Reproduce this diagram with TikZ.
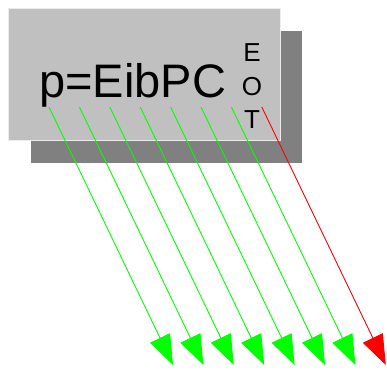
\documentclass[tikz,border=0pt]{standalone}
\usepackage{fontspec}
\setsansfont{Liberation Sans}
\usetikzlibrary{arrows.meta}
\definecolor{boxgray}{HTML}{C0C0C0}
\definecolor{shadowgray}{HTML}{808080}
\definecolor{bitgreen}{HTML}{00FF00}
\definecolor{bitred}{HTML}{FF0000}
\begin{document}
\begin{tikzpicture}[x=1pt, y=-1pt, >={Triangle[length=30pt,width=22pt]},
    every node/.style={font=\sffamily, inner sep=0pt}]
    \useasboundingbox (0,0) rectangle (387,369);
    % 影と箱
    \fill[shadowgray] (31,31) rectangle (302,163);
    \filldraw[fill=boxgray, draw=gray!15] (8,8) rectangle (280,140);

    % 文字列と終端
    \node[anchor=base west] (msg) at (39,97) {\fontsize{47}{47}\selectfont p=EibPC};
    \node[anchor=base] (eotE) at (252,61) {\fontsize{26}{26}\selectfont E};
    \node[anchor=base] (eotO) at (252,95) {\fontsize{26}{26}\selectfont O};
    \node[anchor=base] (eotT) at (252,128) {\fontsize{26}{26}\selectfont T};

    % 各文字から下へ出る矢印
    \foreach \i in {0,...,7} {
      \coordinate (s\i) at (49+30.4*\i,107);
      \coordinate (e\i) at (173+30.4*\i,365);
    }
    \foreach \i in {0,...,6}
      \draw[->, bitgreen, line width=0.9pt] (s\i) -- (e\i);
    \draw[->, bitred, line width=0.9pt] (s7) -- (e7);
  \end{tikzpicture}
\end{document}
